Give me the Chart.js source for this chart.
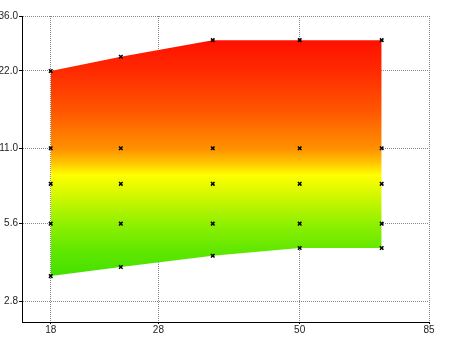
<!DOCTYPE html>
<html>
<head>
<meta charset="utf-8">
<script src="https://cdn.jsdelivr.net/npm/chart.js@4"></script>
<style>
  body { margin: 0; background: #fff; }
</style>
</head>
<body>
<canvas id="chart" width="450" height="337"></canvas>
<script>
// columns where the band was sampled
const xValues = [18, 24, 35, 50, 70];
// lower / upper edge of the band at each column
const lowEdge = [3.5, 3.8, 4.2, 4.5, 4.5];
const highEdge = [22, 25, 29, 29, 29];
// rows inside the band that get a marker at every column
const innerRows = [5.6, 8, 11];

const xTicks = [18, 28, 50, 85];
const yTicks = [2.8, 5.6, 11, 22, 36];

// colour ramp of the band, keyed by y value (red on top -> green at bottom)
const bandStops = [
  [29, '#ff1000'], [22, '#ff2a00'], [15.5, '#ff5500'], [11, '#ff9000'],
  [9.75, '#ffc000'], [8.66, '#ffff00'], [7.25, '#d4f800'], [5.6, '#90f000'],
  [4.44, '#62e800'], [3.5, '#44e000']
];

const tickFont = { family: "'Liberation Sans Narrow', 'Liberation Sans', sans-serif", size: 10 };

function bandFill(ctx) {
  const chart = ctx.chart;
  if (!chart.chartArea) return null;
  const y = chart.scales.y;
  const top = y.getPixelForValue(bandStops[0][0]);
  const bottom = y.getPixelForValue(bandStops[bandStops.length - 1][0]);
  const g = chart.ctx.createLinearGradient(0, top, 0, bottom);
  bandStops.forEach(s => {
    g.addColorStop((y.getPixelForValue(s[0]) - top) / (bottom - top), s[1]);
  });
  return g;
}

let markers = [];
xValues.forEach((x, i) => {
  [lowEdge[i], ...innerRows, highEdge[i]].forEach(v => markers.push({ x: x, y: v }));
});

new Chart(document.getElementById('chart'), {
  type: 'scatter',
  data: {
    datasets: [
      {
        data: markers,
        pointStyle: 'crossRot',
        pointRadius: 2.5,
        pointBorderWidth: 1.5,
        pointBorderColor: '#000',
        pointBackgroundColor: '#000'
      },
      {
        data: xValues.map((x, i) => ({ x: x, y: lowEdge[i] })),
        showLine: true,
        borderColor: 'transparent',
        borderWidth: 0,
        pointRadius: 0
      },
      {
        data: xValues.map((x, i) => ({ x: x, y: highEdge[i] })),
        showLine: true,
        borderColor: 'transparent',
        borderWidth: 0,
        pointRadius: 0,
        fill: '-1',
        backgroundColor: bandFill
      }
    ]
  },
  options: {
    responsive: false,
    animation: false,
    layout: { padding: { top: 16, right: 21, left: 0, bottom: 0 } },
    plugins: { legend: { display: false }, tooltip: { enabled: false } },
    scales: {
      x: {
        type: 'logarithmic',
        min: 16,
        max: 85,
        z: 1,
        afterBuildTicks: s => { s.ticks = xTicks.map(v => ({ value: v })); },
        afterFit: s => { s.height = 15; },
        grid: { color: '#888', tickColor: '#000', tickLength: 2 },
        border: { color: '#000', width: 1, dash: [1, 1] },
        ticks: { color: '#222', font: tickFont, padding: 0, maxRotation: 0, autoSkip: false,
                 callback: v => String(v) }
      },
      y: {
        type: 'logarithmic',
        min: 2.32,
        max: 36,
        z: 1,
        afterBuildTicks: s => { s.ticks = yTicks.map(v => ({ value: v })); },
        afterFit: s => { s.width = 22; },
        grid: { color: '#888', tickColor: '#000', tickLength: 3 },
        border: { color: '#000', width: 1, dash: [1, 1] },
        ticks: { color: '#222', font: tickFont, padding: 1, autoSkip: false,
                 callback: v => Number(v).toFixed(1) }
      }
    }
  }
});
</script>
</body>
</html>
